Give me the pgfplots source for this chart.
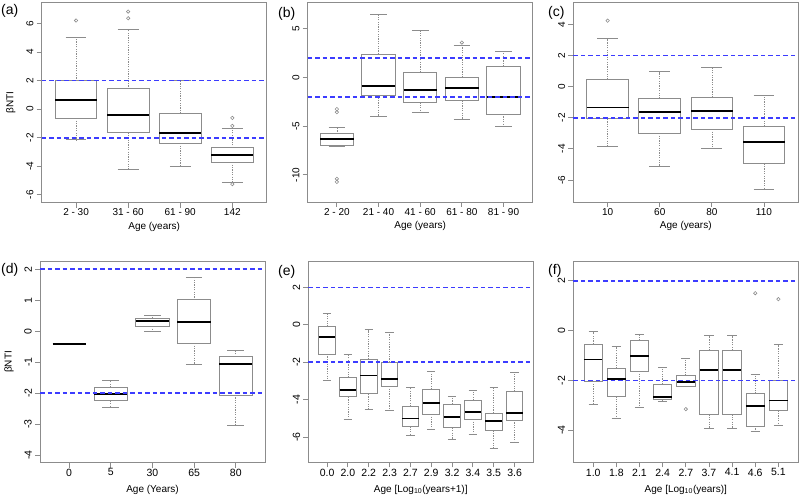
\documentclass[border=0pt]{standalone}
\usepackage{fontspec}
\setmainfont{Liberation Sans}
\usepackage{pgfplots}
\pgfplotsset{compat=1.18}
\usepgfplotslibrary{statistics}
\usetikzlibrary{calc}
\definecolor{bxc}{HTML}{8C8C8C}
\definecolor{frc}{HTML}{8C8C8C}
\definecolor{whc}{HTML}{8C8C8C}
\definecolor{blc}{HTML}{3C3CFF}

\pgfplotsset{
  base/.style={
    scale only axis, width=225pt, height=200pt, anchor=north west,
    axis line style={color=frc, line width=0.9pt},
    tick align=outside, major tick length=5pt,
    xtick pos=left, ytick pos=left,
    tick style={color=frc, line width=0.8pt},
    tick label style={font=\fontsize{10}{12}\selectfont},
    label style={font=\fontsize{10.8}{13}\selectfont},
    yticklabel style={rotate=90, anchor=south, inner sep=0pt},
    yticklabel shift=3pt,
    xticklabel style={anchor=north, inner sep=0pt},
    xticklabel shift=1pt,
    every axis x label/.style={at={(axis description cs:0.5,0)}, anchor=center, yshift=-24pt},
    every axis y label/.style={at={(axis description cs:0,0.5)}, anchor=center, xshift=-31pt, rotate=90},
    clip=true,
    boxplot/draw direction=y,
    boxplot/box extend=0.8,
    boxplot/whisker extend=0.4,
    boxplot/every box/.style={color=bxc, line width=0.9pt},
    boxplot/every median/.style={color=black, line width=1.8pt},
    boxplot/draw/lower whisker/.code={%
      \draw[color=whc, line width=0.7pt, dash pattern=on 1.2pt off 1.2pt]
        (boxplot box cs:\pgfplotsboxplotvalue{lower quartile},0.5) --
        (boxplot box cs:\pgfplotsboxplotvalue{lower whisker},0.5);
      \draw[color=bxc, line width=0.9pt]
        (boxplot whisker cs:\pgfplotsboxplotvalue{lower whisker},0) --
        (boxplot whisker cs:\pgfplotsboxplotvalue{lower whisker},1);
    },
    boxplot/draw/upper whisker/.code={%
      \draw[color=whc, line width=0.7pt, dash pattern=on 1.2pt off 1.2pt]
        (boxplot box cs:\pgfplotsboxplotvalue{upper quartile},0.5) --
        (boxplot box cs:\pgfplotsboxplotvalue{upper whisker},0.5);
      \draw[color=bxc, line width=0.9pt]
        (boxplot whisker cs:\pgfplotsboxplotvalue{upper whisker},0) --
        (boxplot whisker cs:\pgfplotsboxplotvalue{upper whisker},1);
    },
  },
}

% draw position, lower whisker, lower quartile, median, upper quartile, upper whisker, outliers
\newcommand{\BP}[7]{\addplot[color=bxc, mark=o, mark size=1.7pt, mark options={color=bxc, line width=0.6pt, solid},
  boxplot prepared={draw position=#1, lower whisker=#2, lower quartile=#3, median=#4,
  upper quartile=#5, upper whisker=#6}] coordinates {#7};}
% reference levels +2 / -2 : left ends of the lines, taken from the axis
\newcommand{\REF}[1]{%
  \coordinate (#1pl) at ({rel axis cs:0,0}|-{axis cs:1,2});
  \coordinate (#1ml) at ({rel axis cs:0,0}|-{axis cs:1,-2});}
% dashed line built from solid segments (4.5 on, 3 off) across the 225pt axis width
\newcommand{\DREF}[1]{%
  \foreach \i in {0,...,29}{%
    \draw[color=blc, line width=1.6pt] ($(#1pl)+(\i*7.5,0)$) -- ++(4.5,0);
    \draw[color=blc, line width=1.6pt] ($(#1ml)+(\i*7.5,0)$) -- ++(4.5,0);
  }}

\begin{document}
\begin{tikzpicture}[x=1pt,y=1pt]
\useasboundingbox (0,0) rectangle (800,501);

% (a)
\begin{axis}[base, at={(41.7pt,498.3pt)},
  xmin=0.34, xmax=4.66, ymin=-6.55, ymax=7.46,
  ytick={-6,-4,-2,0,2,4,6}, yticklabels={-6,-4,-2,0,2,4,6},
  xtick={1,2,3,4}, xticklabels={2 - 30,31 - 60,61 - 90,142},
  xlabel={Age (years)}, ylabel={βNTI}]
\BP{1}{-2.15}{-0.63}{0.65}{1.98}{5.04}{(0,6.21)}
\BP{2}{-4.20}{-1.63}{-0.40}{1.42}{5.60}{(0,6.37) (0,6.84)}
\BP{3}{-4.01}{-2.38}{-1.68}{-0.30}{1.98}{}
\BP{4}{-5.11}{-3.71}{-3.20}{-2.71}{-1.35}{(0,-0.61) (0,-1.17) (0,-5.25)}
\REF{A}
\end{axis}

% (b)
\begin{axis}[base, at={(307.7pt,499pt)},
  xmin=0.3, xmax=5.7, ymin=-12.78, ymax=7.72,
  ytick={-10,-5,0,5}, yticklabels={-10,-5,0,5},
  xtick={1,2,3,4,5}, xticklabels={2 - 20,21 - 40,41 - 60,61 - 80,81 - 90},
  xlabel={Age (years)}]
\BP{1}{-7.09}{-6.96}{-6.31}{-5.80}{-5.09}{(0,-3.26) (0,-3.58) (0,-10.4) (0,-10.72)}
\BP{2}{-3.97}{-1.83}{-0.85}{2.38}{6.41}{}
\BP{3}{-3.56}{-2.58}{-1.29}{0.51}{4.85}{}
\BP{4}{-4.34}{-2.38}{-1.12}{0.00}{3.29}{(0,3.56)}
\BP{5}{-5.06}{-3.77}{-2.04}{1.12}{2.68}{}
\REF{B}
\end{axis}

% (c)
\begin{axis}[base, at={(573.3pt,499pt)},
  xmin=0.34, xmax=4.66, ymin=-7.42, ymax=5.44,
  ytick={-6,-4,-2,0,2,4}, yticklabels={-6,-4,-2,0,2,4},
  xtick={1,2,3,4}, xticklabels={10,60,80,110},
  xlabel={Age (years)}]
\BP{1}{-3.82}{-2.08}{-1.35}{0.45}{3.08}{(0,4.24)}
\BP{2}{-5.14}{-3.00}{-1.65}{-0.77}{0.96}{}
\BP{3}{-3.97}{-2.74}{-1.55}{-0.69}{1.24}{}
\BP{4}{-6.60}{-4.95}{-3.58}{-2.57}{-0.56}{}
\REF{C}
\end{axis}

% (d)
\begin{axis}[base, at={(40pt,239.5pt)}, height=201pt,
  xmin=0.3, xmax=5.7, ymin=-4.24, ymax=2.25,
  ytick={-4,-3,-2,-1,0,1,2}, yticklabels={-4,-3,-2,-1,0,1,2},
  xtick={1,2,3,4,5}, xticklabels={0,5,30,65,80},
  xlabel={Age (Years)}, ylabel={βNTI},
  every axis x label/.append style={yshift=-3pt},
  tick label style={font=\fontsize{10.5}{12}\selectfont}]
\BP{2}{-2.45}{-2.25}{-2.03}{-1.81}{-1.60}{}
\BP{3}{-0.02}{0.16}{0.34}{0.41}{0.51}{}
\BP{4}{-1.08}{-0.39}{0.30}{1.01}{1.74}{}
\BP{5}{-3.05}{-2.06}{-1.06}{-0.83}{-0.62}{}
% single observation at age 0: only its median line
\addplot[color=black, line width=1.8pt] coordinates {(0.6,-0.42) (1.4,-0.42)};
\REF{D}
\end{axis}

% (e)
\begin{axis}[base, at={(308.3pt,239.5pt)}, height=201pt,
  xmin=0.1, xmax=10.9, ymin=-7.37, ymax=3.39,
  ytick={-6,-4,-2,0,2}, yticklabels={-6,-4,-2,0,2},
  xtick={1,...,10}, xticklabels={0.0,2.0,2.2,2.3,2.7,2.9,3.2,3.4,3.5,3.6},
  xlabel={Age [Log\textsubscript{10}(years+1)]},
  every axis x label/.append style={yshift=-3pt},
  tick label style={font=\fontsize{10.5}{12}\selectfont}]
\BP{1}{-2.96}{-1.56}{-0.66}{-0.10}{0.62}{}
\BP{2}{-5.05}{-3.86}{-3.48}{-2.82}{-1.61}{}
\BP{3}{-4.51}{-3.70}{-2.71}{-1.83}{-0.27}{}
\BP{4}{-4.56}{-3.29}{-2.91}{-1.99}{-0.41}{}
\BP{5}{-5.91}{-5.44}{-5.01}{-4.36}{-3.34}{}
\BP{6}{-5.59}{-4.78}{-4.20}{-3.45}{-2.48}{}
\BP{7}{-6.14}{-5.51}{-4.92}{-4.24}{-3.81}{}
\BP{8}{-5.87}{-5.05}{-4.67}{-4.04}{-3.50}{}
\BP{9}{-6.61}{-5.66}{-5.16}{-4.72}{-3.34}{}
\BP{10}{-6.29}{-5.10}{-4.74}{-3.57}{-2.55}{}
\REF{E}
\end{axis}

% (f)
\begin{axis}[base, at={(573.3pt,239.5pt)}, height=201pt,
  xmin=0.14, xmax=9.86, ymin=-5.29, ymax=2.77,
  ytick={-4,-2,0,2}, yticklabels={-4,-2,0,2},
  xtick={1,...,9}, xticklabels={1.0,1.8,2.1,2.4,2.7,3.7,4.1,4.6,5.1},
  xlabel={Age [Log\textsubscript{10}(years)]},
  every axis x label/.append style={yshift=-3pt},
  tick label style={font=\fontsize{10.5}{12}\selectfont}]
\BP{1}{-2.96}{-2.03}{-1.16}{-0.54}{-0.05}{}
\BP{2}{-3.51}{-2.64}{-1.95}{-1.51}{-0.64}{}
\BP{3}{-3.07}{-1.63}{-1.03}{-0.39}{-0.15}{}
\BP{4}{-2.86}{-2.78}{-2.65}{-2.16}{-1.47}{}
\BP{5}{-2.26}{-2.26}{-2.07}{-1.79}{-1.12}{(0,-3.15)}
\BP{6}{-3.91}{-3.36}{-1.59}{-0.79}{-0.20}{}
\BP{7}{-3.91}{-3.36}{-1.59}{-0.79}{-0.20}{}
\BP{8}{-4.03}{-3.83}{-3.01}{-2.53}{-1.75}{(0,1.50)}
\BP{9}{-3.79}{-3.21}{-2.80}{-2.01}{-0.56}{(0,1.26)}
\REF{F}
\end{axis}

% reference lines at +2 and -2, drawn on top
\DREF{A}\DREF{B}\DREF{C}\DREF{D}\DREF{E}\DREF{F}

% panel letters
\node[anchor=west, inner sep=0pt, font=\fontsize{14}{16}\selectfont] at (1,490) {(a)};
\node[anchor=west, inner sep=0pt, font=\fontsize{14}{16}\selectfont] at (278,487.5) {(b)};
\node[anchor=west, inner sep=0pt, font=\fontsize{14}{16}\selectfont] at (548,488.5) {(c)};
\node[anchor=west, inner sep=0pt, font=\fontsize{14}{16}\selectfont] at (1,231) {(d)};
\node[anchor=west, inner sep=0pt, font=\fontsize{14}{16}\selectfont] at (278,229.5) {(e)};
\node[anchor=west, inner sep=0pt, font=\fontsize{14}{16}\selectfont] at (548,230.5) {(f)};
\end{tikzpicture}
\end{document}
